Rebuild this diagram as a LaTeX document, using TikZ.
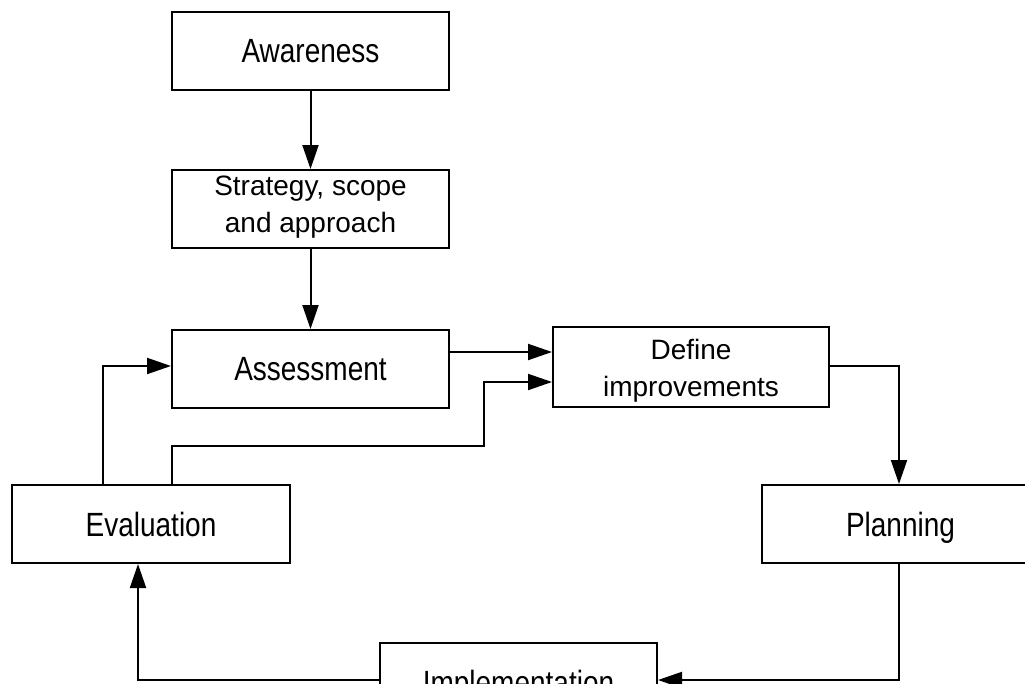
\documentclass[tikz,border=0pt]{standalone}
\usepackage{fontspec}
\setmainfont{Liberation Sans}
\usetikzlibrary{arrows.meta}
\newcommand{\tall}[1]{\scalebox{1}[1.2]{#1}}
\tikzset{
  box/.style={draw, line width=2pt, minimum width=277pt, minimum height=78pt,
    inner sep=0pt, font=\fontsize{28}{37}\selectfont, text depth=0pt},
  twoline/.style={label={[align=center, inner sep=0pt, font=\fontsize{28}{37}\selectfont, yshift=#1]center:{}}},
  lab/.style={align=center, inner sep=0pt, font=\fontsize{28}{37}\selectfont},
  arr/.style={line width=2pt, -{Triangle[length=24pt,width=16pt]}}
}
\begin{document}
\begin{tikzpicture}[x=1pt,y=-1pt]
\clip (0,0) rectangle (1025,683);
\fill[white] (0,0) rectangle (1025,683);
\node[box] (aw) at (310.5,51) {\tall{Awareness}};
\node[box, label={[lab, yshift=2pt]center:Strategy, scope\\and approach}] (st) at (310.5,209) {};
\node[box] (as) at (310.5,369) {\tall{Assessment}};
\node[box, minimum width=276pt, minimum height=80pt,
  label={[lab, yshift=-4pt]center:Define\\improvements}] (df) at (691,367) {};
\node[box, minimum width=278pt] (ev) at (151,524) {\tall{Evaluation}};
\node[box] (pl) at (900.5,524) {\tall{Planning}};
\node[box] (im) at (518.5,682) {\tall{Implementation}};
% helper coordinates
\coordinate (y352) at (0,352);
\coordinate (y366) at (0,366);
\coordinate (y382) at (0,382);
\coordinate (y446) at (0,446);
\coordinate (y680) at (0,680);
\coordinate (x103) at (103,0);
\coordinate (x172) at (172,0);
\coordinate (x484) at (484,0);
\coordinate (x138) at (138,0);
\coordinate (x899) at (899,0);
\draw[arr] (aw) -- (st);
\draw[arr] (st) -- (as);
\draw[arr] (as.east |- y352) -- (df.west |- y352);
\draw[arr] (ev.north -| x103) |- (as.west |- y366);
\draw[arr] (ev.north -| x172) -- (x172 |- y446) -- (x484 |- y446) -- (x484 |- y382) -- (df.west |- y382);
\draw[arr] (df.east |- y366) -| (pl.north -| x899);
\draw[arr] (pl.south -| x899) |- (im.east |- y680);
\draw[arr] (im.west |- y680) -| (ev.south -| x138);
\end{tikzpicture}
\end{document}
